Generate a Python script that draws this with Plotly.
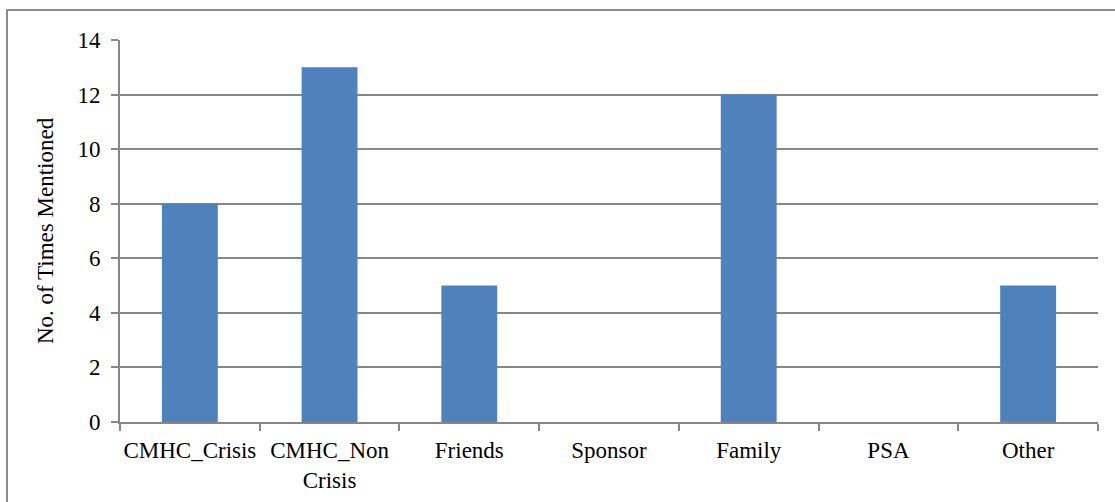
import plotly.graph_objects as go

categories = ["CMHC_Crisis", "CMHC_Non<br>Crisis", "Friends", "Sponsor", "Family", "PSA", "Other"]
mentions = [8, 13, 5, 0, 12, 0, 5]
y_ticks = [0, 2, 4, 6, 8, 10, 12, 14]

W, H = 1115, 502
L, R, T, B = 120, 17, 40, 80
pw, ph = W - L - R, H - T - B

font = dict(family="Liberation Serif", size=23, color="#000000")
grid = "#878787"

fig = go.Figure(go.Bar(
    x=categories,
    y=mentions,
    marker=dict(color="#4F81BD", line=dict(width=0)),
    hoverinfo="x+y",
))

fig.update_layout(
    width=W, height=H,
    margin=dict(l=L, r=R, t=T, b=B, pad=0, autoexpand=False),
    paper_bgcolor="white",
    plot_bgcolor="white",
    font=font,
    bargap=0.6,
    showlegend=False,
    xaxis=dict(
        type="category",
        showline=True, linecolor=grid, linewidth=2,
        ticks="outside", ticklen=7, tickcolor=grid, tickwidth=2,
        tickson="boundaries",
        showgrid=False,
        tickfont=font,
        tickangle=0,
        automargin=False,
        ticklabelstandoff=6,
    ),
    yaxis=dict(
        range=[0, 14],
        tickvals=y_ticks,
        showline=True, linecolor=grid, linewidth=2,
        ticks="outside", ticklen=7, tickcolor=grid, tickwidth=2,
        showgrid=True, gridcolor=grid, gridwidth=2,
        zeroline=False,
        tickfont=font,
        automargin=False,
        ticklabelstandoff=6,
    ),
    annotations=[dict(
        text="No. of Times Mentioned",
        xref="paper", yref="paper",
        x=(45 - L) / pw, y=(H - B - 231) / ph,
        xanchor="center", yanchor="middle",
        textangle=-90, showarrow=False,
        font=font,
    )],
    shapes=[dict(
        type="rect", xref="paper", yref="paper",
        x0=(7 - L) / pw, x1=(W + 20 - L) / pw,
        y0=-(B + 20) / ph, y1=(H - B - 10) / ph,
        line=dict(color="#8c8c8c", width=2),
        fillcolor="rgba(0,0,0,0)",
        layer="below",
    )],
)

fig.write_html("out.html")
